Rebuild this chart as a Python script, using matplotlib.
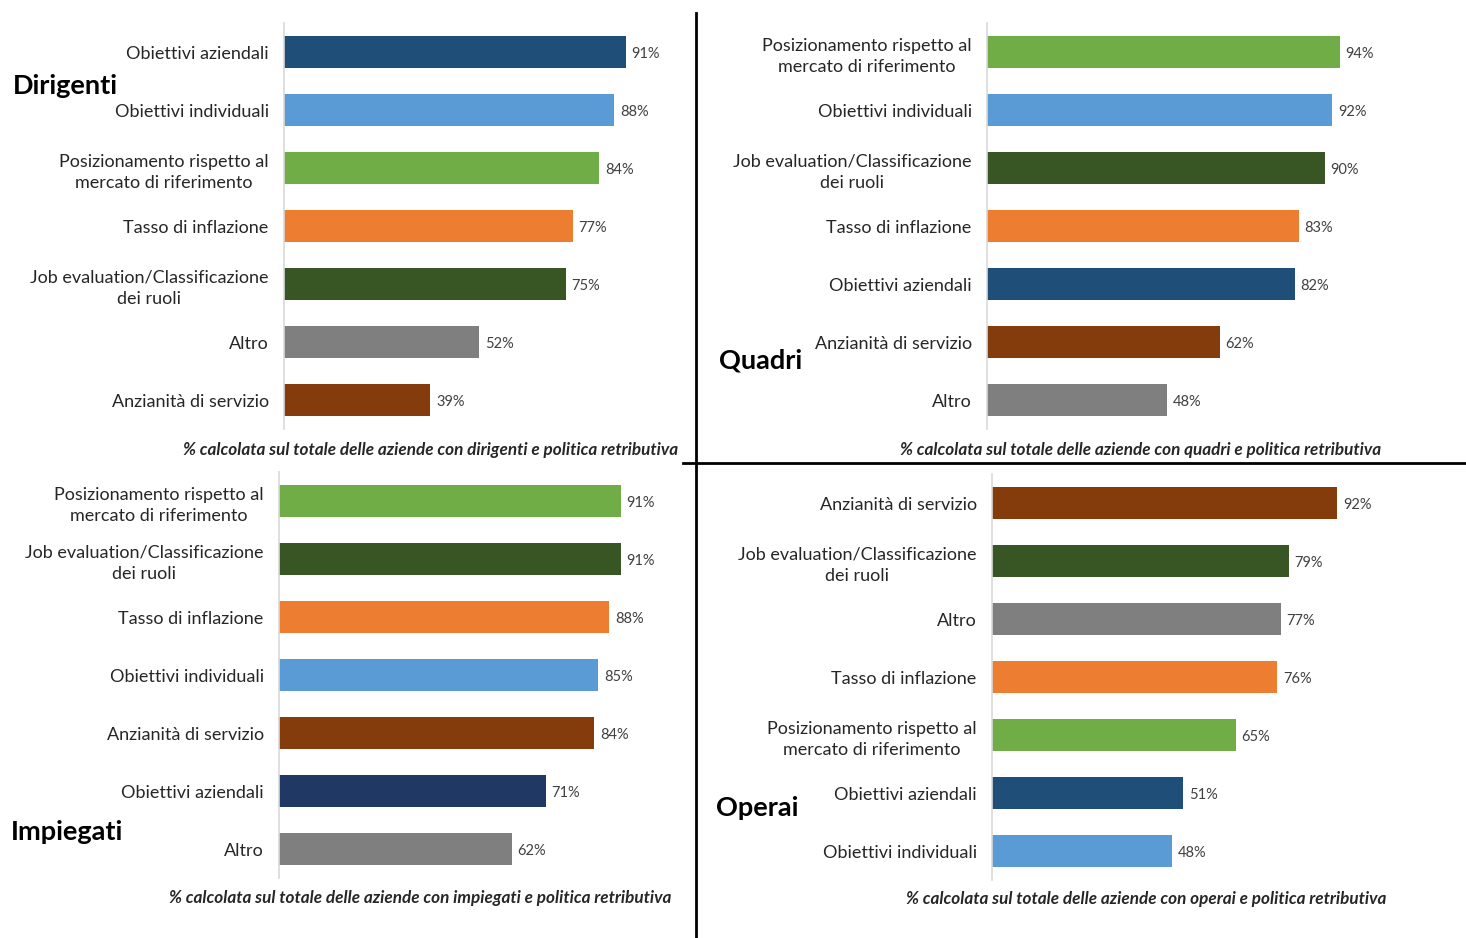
import matplotlib.pyplot as plt
import matplotlib as mpl

plt.rcParams['font.family'] = ['Lato', 'DejaVu Sans']

# colours used by the source chart, one per criterion
col = {
    'Obiettivi aziendali': '#1F4E79',
    'Obiettivi individuali': '#5B9BD5',
    'Posizionamento rispetto al\nmercato di riferimento': '#70AD47',
    'Tasso di inflazione': '#ED7D31',
    'Job evaluation/Classificazione\ndei ruoli': '#375623',
    'Altro': '#7F7F7F',
    'Anzianità di servizio': '#843C0C',
}

# Dirigenti
dir_labels = ['Obiettivi aziendali', 'Obiettivi individuali',
              'Posizionamento rispetto al\nmercato di riferimento', 'Tasso di inflazione',
              'Job evaluation/Classificazione\ndei ruoli', 'Altro', 'Anzianità di servizio']
dir_values = [91, 88, 84, 77, 75, 52, 39]

# Quadri
qua_labels = ['Posizionamento rispetto al\nmercato di riferimento', 'Obiettivi individuali',
              'Job evaluation/Classificazione\ndei ruoli', 'Tasso di inflazione',
              'Obiettivi aziendali', 'Anzianità di servizio', 'Altro']
qua_values = [94, 92, 90, 83, 82, 62, 48]

# Impiegati
imp_labels = ['Posizionamento rispetto al\nmercato di riferimento',
              'Job evaluation/Classificazione\ndei ruoli', 'Tasso di inflazione',
              'Obiettivi individuali', 'Anzianità di servizio', 'Obiettivi aziendali', 'Altro']
imp_values = [91, 91, 88, 85, 84, 71, 62]

# Operai
ope_labels = ['Anzianità di servizio', 'Job evaluation/Classificazione\ndei ruoli', 'Altro',
              'Tasso di inflazione', 'Posizionamento rispetto al\nmercato di riferimento',
              'Obiettivi aziendali', 'Obiettivi individuali']
ope_values = [92, 79, 77, 76, 65, 51, 48]

W, H = 1466, 938
fig = plt.figure(figsize=(W / 100, H / 100), dpi=100)


def panel(left, top, bottom, labels, values, title, title_xy, note, note_xy, colors=None):
    ax = fig.add_axes([left / W, 1 - bottom / H, 398 / W, (bottom - top) / H])
    ypos = list(range(len(values)))
    if colors is None:
        colors = [col[l] for l in labels]
    ax.barh(ypos, values, height=0.56, color=colors)
    ax.set_xlim(0, 106)
    ax.set_ylim(len(values) - 0.5, -0.5)
    ax.set_yticks(ypos)
    ax.set_yticklabels(labels, fontsize=13, color='#262626', linespacing=1.4,
                       multialignment='center')
    ax.tick_params(axis='y', length=0, pad=11)
    ax.set_xticks([])
    for s in ['top', 'right', 'bottom']:
        ax.spines[s].set_visible(False)
    ax.spines['left'].set_color('#D9D9D9')
    ax.spines['left'].set_linewidth(1.2)
    for y, v in zip(ypos, values):
        ax.text(v + 1.5, y, f'{v}%', va='center_baseline', ha='left', fontsize=10.5,
                color='#404040')
    fig.text(title_xy[0] / W, 1 - title_xy[1] / H, title, fontsize=19.5, fontweight='bold',
             va='center', ha='left', color='black')
    fig.text(note_xy[0] / W, 1 - note_xy[1] / H, note, fontsize=12.3, fontweight='bold',
             fontstyle='italic', va='center', ha='right', color='#262626')


panel(284, 23, 429, dir_labels, dir_values, 'Dirigenti', (13, 86),
      '% calcolata sul totale delle aziende con dirigenti e politica retributiva', (678, 450))
panel(987, 23, 429, qua_labels, qua_values, 'Quadri', (719, 361),
      '% calcolata sul totale delle aziende con quadri e politica retributiva', (1381, 450))
imp_colors = [col[l] for l in imp_labels]
imp_colors[5] = '#203864'
panel(279, 472, 878, imp_labels, imp_values, 'Impiegati', (11, 832),
      '% calcolata sul totale delle aziende con impiegati e politica retributiva', (671, 898),
      colors=imp_colors)
panel(992, 474, 880, ope_labels, ope_values, 'Operai', (716, 808),
      '% calcolata sul totale delle aziende con operai e politica retributiva', (1386, 899))

# divider lines between the panels
fig.add_artist(mpl.lines.Line2D([696 / W, 696 / W], [1 - 13 / H, 0], color='black', lw=2))
fig.add_artist(mpl.lines.Line2D([683 / W, 1], [1 - 463 / H, 1 - 463 / H], color='black', lw=2))

fig.savefig('out.png', dpi=100, facecolor='white')
